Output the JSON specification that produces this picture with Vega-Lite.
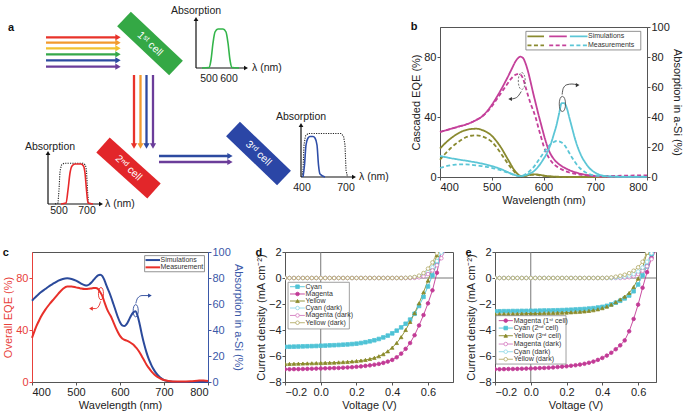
{
"$schema": "https://vega.github.io/schema/vega-lite/v6.json",
"background": "white",
"padding": {"left": 2, "top": 6, "right": 0, "bottom": 0},
"config": {
 "font": "Liberation Sans",
 "view": {"stroke": "#555", "strokeWidth": 1},
 "axis": {"grid": false, "domainColor": "#555", "tickColor": "#555", "labelColor": "#222", "titleColor": "#222", "labelFontSize": 11, "titleFontSize": 11, "titleFontWeight": "normal", "tickSize": 3, "labelPadding": 1, "titlePadding": 2},
 "title": {"fontSize": 11, "fontWeight": "bold", "anchor": "start", "frame": "bounds", "offset": 0, "color": "#111"}
},
"datasets": {
 "beams": [
  {"xs":49,"ys":32.3,"xe":121,"ye":32.3,"c":"R","d":"r"},
  {"xs":49,"ys":37.7,"xe":121,"ye":37.7,"c":"O","d":"r"},
  {"xs":49,"ys":43.3,"xe":121,"ye":43.3,"c":"Yw","d":"r"},
  {"xs":49,"ys":49.3,"xe":121,"ye":49.3,"c":"G","d":"r"},
  {"xs":49,"ys":55.3,"xe":121,"ye":55.3,"c":"B","d":"r"},
  {"xs":49,"ys":61.7,"xe":121,"ye":61.7,"c":"P","d":"r"},
  {"xs":137,"ys":70,"xe":137,"ye":141,"c":"R","d":"d"},
  {"xs":143.5,"ys":70,"xe":143.5,"ye":141,"c":"O","d":"d"},
  {"xs":149.5,"ys":70,"xe":149.5,"ye":141,"c":"B","d":"d"},
  {"xs":156,"ys":70,"xe":156,"ye":141,"c":"P","d":"d"},
  {"xs":162,"ys":151,"xe":233,"ye":151,"c":"B","d":"r"},
  {"xs":162,"ys":157,"xe":233,"ye":157,"c":"P","d":"r"},
  {"xs":199,"ys":63,"xe":199,"ye":14,"c":"K","d":"u"},
  {"xs":199,"ys":63,"xe":249,"ye":63,"c":"K","d":"r"},
  {"xs":51,"ys":199,"xe":51,"ye":148,"c":"K","d":"u"},
  {"xs":51,"ys":199,"xe":104,"ye":199,"c":"K","d":"r"},
  {"xs":304,"ys":172,"xe":304,"ye":120,"c":"K","d":"u"},
  {"xs":304,"ys":172,"xe":357,"ye":172,"c":"K","d":"r"}
 ],
 "cells": [
  {"xs":127,"ys":14,"xe":179,"ye":63,"c":"cg"},
  {"xs":106,"ys":140,"xe":157,"ye":186,"c":"cr"},
  {"xs":236,"ys":124,"xe":287,"ye":173,"c":"cb"}
 ],
 "cellText": [
  {"x":153,"y":39,"t":"1ˢᵗ cell"},
  {"x":131.5,"y":163,"t":"2ⁿᵈ cell"},
  {"x":261.5,"y":148.5,"t":"3ʳᵈ cell"}
 ],
 "inset": [
  {"k":"ig","x":205,"y":63},{"k":"ig","x":212,"y":62.5},{"k":"ig","x":214,"y":55},{"k":"ig","x":216,"y":38},{"k":"ig","x":218,"y":27},{"k":"ig","x":221,"y":24},{"k":"ig","x":226,"y":24},{"k":"ig","x":229,"y":27},{"k":"ig","x":231,"y":38},{"k":"ig","x":233,"y":55},{"k":"ig","x":235,"y":62.5},{"k":"ig","x":242,"y":63},
  {"k":"ir","x":64,"y":199},{"k":"ir","x":69,"y":198},{"k":"ir","x":71,"y":185},{"k":"ir","x":73,"y":168},{"k":"ir","x":75,"y":161},{"k":"ir","x":78,"y":159},{"k":"ir","x":84,"y":159},{"k":"ir","x":86.5,"y":161},{"k":"ir","x":88,"y":168},{"k":"ir","x":89.5,"y":185},{"k":"ir","x":91,"y":198},{"k":"ir","x":96,"y":199},
  {"k":"ib","x":306,"y":172},{"k":"ib","x":307.5,"y":160},{"k":"ib","x":309,"y":140},{"k":"ib","x":311,"y":133},{"k":"ib","x":313,"y":131.5},{"k":"ib","x":316,"y":131.5},{"k":"ib","x":318,"y":133},{"k":"ib","x":320,"y":140},{"k":"ib","x":321.5,"y":160},{"k":"ib","x":323,"y":169},{"k":"ib","x":328,"y":172}
 ],
 "insetDot": [
  {"k":"d2","x":58,"y":199},{"k":"d2","x":61,"y":198},{"k":"d2","x":62,"y":185},{"k":"d2","x":63,"y":166},{"k":"d2","x":64.5,"y":160},{"k":"d2","x":67,"y":158.3},{"k":"d2","x":86,"y":158.3},{"k":"d2","x":88.5,"y":160},{"k":"d2","x":89.5,"y":166},{"k":"d2","x":90.5,"y":185},{"k":"d2","x":91.5,"y":198},{"k":"d2","x":95,"y":199},
  {"k":"d3","x":305,"y":172},{"k":"d3","x":306,"y":165},{"k":"d3","x":307,"y":140},{"k":"d3","x":308.5,"y":131},{"k":"d3","x":311,"y":128.5},{"k":"d3","x":344,"y":128.5},{"k":"d3","x":346.5,"y":131},{"k":"d3","x":348,"y":140},{"k":"d3","x":349,"y":165},{"k":"d3","x":350.5,"y":172}
 ],
 "aTextC": [
  {"x":199,"y":6,"t":"Absorption"},{"x":53,"y":142,"t":"Absorption"},{"x":304,"y":112,"t":"Absorption"},
  {"x":212,"y":74,"t":"500"},{"x":232,"y":74,"t":"600"},{"x":62,"y":206,"t":"500"},{"x":90,"y":206,"t":"700"},{"x":305,"y":183,"t":"400"},{"x":349,"y":183,"t":"700"}
 ],
 "aTextL": [
  {"x":255,"y":63,"t":"λ (nm)"},{"x":108,"y":199,"t":"λ (nm)"},{"x":362,"y":172,"t":"λ (nm)"}
 ],
 "bq": [
  {"w":400,"os":19,"om":11.5,"ms":30,"mm":30,"cs":14,"cm":6},
  {"w":410,"os":22.5,"om":15.5,"ms":31,"mm":31,"cs":13.3,"cm":7},
  {"w":420,"os":25.5,"om":19,"ms":32,"mm":32,"cs":12.6,"cm":7.8},
  {"w":430,"os":28,"om":22,"ms":33,"mm":33,"cs":12,"cm":8.2},
  {"w":440,"os":30,"om":24.5,"ms":34,"mm":34,"cs":11.4,"cm":8.4},
  {"w":450,"os":31.3,"om":26.5,"ms":35,"mm":35,"cs":10.9,"cm":8.4},
  {"w":460,"os":32,"om":27.5,"ms":36.3,"mm":36.3,"cs":10.3,"cm":8.2},
  {"w":470,"os":32.2,"om":27.8,"ms":38,"mm":38,"cs":9.7,"cm":7.8},
  {"w":480,"os":31.5,"om":27.3,"ms":40,"mm":40,"cs":9,"cm":7.3},
  {"w":490,"os":30,"om":25.8,"ms":43.5,"mm":43,"cs":8.2,"cm":6.8},
  {"w":500,"os":27.5,"om":23.5,"ms":48,"mm":47,"cs":7.3,"cm":6.1},
  {"w":510,"os":23.5,"om":19.5,"ms":53.5,"mm":52,"cs":6.2,"cm":5.2},
  {"w":520,"os":18.5,"om":14.5,"ms":59.5,"mm":57,"cs":5,"cm":4.2},
  {"w":525,"os":15.5,"om":12,"ms":62.7,"mm":59.5,"cs":4.2,"cm":3.6},
  {"w":530,"os":12.5,"om":9.5,"ms":66,"mm":62,"cs":3.4,"cm":3},
  {"w":535,"os":9.5,"om":7,"ms":69.5,"mm":64.5,"cs":2.6,"cm":2.4},
  {"w":540,"os":6.5,"om":5,"ms":73,"mm":66.5,"cs":1.9,"cm":1.8},
  {"w":545,"os":4,"om":3,"ms":76.5,"mm":68,"cs":1.3,"cm":1.3},
  {"w":550,"os":2,"om":1.5,"ms":79,"mm":68.6,"cs":0.8,"cm":0.8},
  {"w":555,"os":0.8,"om":0.5,"ms":80.2,"mm":68.4,"cs":0.6,"cm":0.6},
  {"w":560,"os":0.5,"om":0.4,"ms":79.5,"mm":66,"cs":0.7,"cm":1},
  {"w":565,"os":0.8,"om":0.7,"ms":76,"mm":60.5,"cs":1.2,"cm":1.8},
  {"w":570,"os":1.2,"om":1.1,"ms":70.5,"mm":54.5,"cs":1.8,"cm":3},
  {"w":575,"os":1.6,"om":1.4,"ms":63.5,"mm":49,"cs":2.6,"cm":4.5},
  {"w":580,"os":1.8,"om":1.5,"ms":56,"mm":44.5,"cs":3.5,"cm":6.2},
  {"w":585,"os":1.8,"om":1.5,"ms":49,"mm":39.5,"cs":5,"cm":8.5},
  {"w":590,"os":1.6,"om":1.3,"ms":42,"mm":33,"cs":7,"cm":11},
  {"w":595,"os":1.3,"om":1,"ms":35.5,"mm":27,"cs":9.3,"cm":13.5},
  {"w":600,"os":1,"om":0.8,"ms":29,"mm":21,"cs":12,"cm":16},
  {"w":605,"os":0.7,"om":0.6,"ms":23,"mm":16.5,"cs":14.8,"cm":18.5},
  {"w":610,"os":0.5,"om":0.4,"ms":18,"mm":13,"cs":18.5,"cm":20.5},
  {"w":615,"os":0.35,"om":0.3,"ms":14.5,"mm":10.5,"cs":23,"cm":22.2},
  {"w":620,"os":0.25,"om":0.2,"ms":12,"mm":8.5,"cs":28.5,"cm":23.3},
  {"w":625,"os":0.2,"om":0.15,"ms":10,"mm":7.2,"cs":34.5,"cm":24},
  {"w":630,"os":0.15,"om":0.1,"ms":8.5,"mm":6,"cs":42,"cm":23.8},
  {"w":635,"os":0.1,"om":0.1,"ms":7.3,"mm":5.1,"cs":49.2,"cm":23},
  {"w":640,"os":0.1,"om":0.1,"ms":6.3,"mm":4.3,"cs":49.3,"cm":21.5},
  {"w":645,"os":0.05,"om":0.05,"ms":5.4,"mm":3.6,"cs":46,"cm":19},
  {"w":650,"os":0,"om":0,"ms":4.6,"mm":3,"cs":39.5,"cm":16},
  {"w":655,"os":0,"om":0,"ms":3.9,"mm":2.6,"cs":33,"cm":13},
  {"w":660,"os":0,"om":0,"ms":3.3,"mm":2.2,"cs":26.5,"cm":10.3},
  {"w":665,"os":0,"om":0,"ms":2.8,"mm":1.9,"cs":21,"cm":8},
  {"w":670,"os":0,"om":0,"ms":2.3,"mm":1.6,"cs":16.5,"cm":6},
  {"w":675,"os":0,"om":0,"ms":1.9,"mm":1.4,"cs":12.8,"cm":4.5},
  {"w":680,"os":0,"om":0,"ms":1.5,"mm":1.2,"cs":10,"cm":3.3},
  {"w":685,"os":0,"om":0,"ms":1.2,"mm":1.05,"cs":7.5,"cm":2.5},
  {"w":690,"os":0,"om":0,"ms":0.9,"mm":0.95,"cs":5.5,"cm":1.8},
  {"w":695,"os":0,"om":0,"ms":0.7,"mm":0.85,"cs":4,"cm":1.3},
  {"w":700,"os":0,"om":0,"ms":0.5,"mm":0.8,"cs":2.8,"cm":1},
  {"w":710,"os":0,"om":0,"ms":0.3,"mm":0.8,"cs":1.3,"cm":0.6},
  {"w":720,"os":0,"om":0,"ms":0.2,"mm":0.8,"cs":0.6,"cm":0.4},
  {"w":740,"os":0,"om":0,"ms":0.1,"mm":0.8,"cs":0.2,"cm":0.3},
  {"w":760,"os":0,"om":0,"ms":0.1,"mm":0.9,"cs":0.1,"cm":0.3},
  {"w":780,"os":0,"om":0,"ms":0.1,"mm":1,"cs":0.1,"cm":0.3},
  {"w":800,"os":0,"om":0,"ms":0.1,"mm":1,"cs":0.1,"cm":0.3}
 ],
 "bleg": [
  {"k":"os","xa":569,"xb":601,"y":93.8},{"k":"ms","xa":611,"xb":645,"y":93.8},{"k":"cs","xa":651,"xb":685,"y":93.8},
  {"k":"om","xa":569,"xb":601,"y":87.8},{"k":"mm","xa":611,"xb":645,"y":87.8},{"k":"cm","xa":651,"xb":685,"y":87.8}
 ],
 "blegText": [{"t":"Simulations","y":93.8},{"t":"Measurements","y":87.8}],
 "bell": [{"w":558,"v":64,"e":"d"},{"w":636.5,"v":48.7,"e":"s"}],
 "barr": [
  {"g":"a1","w":538,"v":52},{"g":"a1","w":548,"v":53},{"g":"a1","w":557,"v":57},
  {"g":"a2","w":636,"v":55},{"g":"a2","w":638,"v":59},{"g":"a2","w":645,"v":61.5},{"g":"a2","w":655,"v":62},{"g":"a2","w":664,"v":61.5}
 ],
 "bhead": [{"w":535.5,"v":52,"d":"l"},{"w":666,"v":61.3,"d":"r"}],
 "cq": [
  {"w":400,"bs":62.5,"rm":34},{"w":405,"bs":64.3,"rm":38.5},{"w":410,"bs":66,"rm":43},{"w":415,"bs":67.5,"rm":46.5},{"w":420,"bs":69,"rm":50},
  {"w":430,"bs":71.5,"rm":55.5},{"w":440,"bs":74,"rm":60},{"w":450,"bs":76,"rm":64},{"w":460,"bs":78,"rm":68},{"w":470,"bs":79.3,"rm":71.5},
  {"w":480,"bs":79.8,"rm":73.5},{"w":490,"bs":79.3,"rm":73.5},{"w":500,"bs":78,"rm":72.8},{"w":510,"bs":76,"rm":72},{"w":520,"bs":74.5,"rm":71.5},
  {"w":525,"bs":74.3,"rm":71.6},{"w":530,"bs":75,"rm":71.8},{"w":535,"bs":76.5,"rm":72},{"w":540,"bs":78.5,"rm":72.3},{"w":545,"bs":80.5,"rm":72.3},
  {"w":550,"bs":82,"rm":71.5},{"w":555,"bs":82.5,"rm":69},{"w":560,"bs":81.5,"rm":66},{"w":565,"bs":78,"rm":61},{"w":570,"bs":73.5,"rm":56.5},
  {"w":575,"bs":69.5,"rm":53},{"w":580,"bs":65,"rm":50},{"w":585,"bs":60,"rm":46},{"w":590,"bs":55,"rm":42},{"w":595,"bs":50,"rm":38.5},
  {"w":600,"bs":46,"rm":35.5},{"w":605,"bs":43.5,"rm":33.5},{"w":610,"bs":43,"rm":32.5},{"w":615,"bs":44.5,"rm":31.8},{"w":620,"bs":47.5,"rm":31},
  {"w":625,"bs":51,"rm":30},{"w":630,"bs":53.5,"rm":28.8},{"w":635,"bs":54.5,"rm":27},{"w":640,"bs":51,"rm":25},{"w":645,"bs":44,"rm":22.5},
  {"w":650,"bs":36,"rm":19.5},{"w":655,"bs":29,"rm":16.5},{"w":660,"bs":23,"rm":13.5},{"w":665,"bs":18,"rm":11},{"w":670,"bs":14,"rm":8.7},
  {"w":675,"bs":10.5,"rm":6.8},{"w":680,"bs":7.8,"rm":5.2},{"w":690,"bs":3.8,"rm":3},{"w":700,"bs":1.5,"rm":1.5},{"w":710,"bs":0.6,"rm":0.7},
  {"w":720,"bs":0.2,"rm":0.4},{"w":740,"bs":0,"rm":0.3},{"w":760,"bs":0,"rm":0.5},{"w":780,"bs":0,"rm":1.1},{"w":790,"bs":0,"rm":1.2},{"w":800,"bs":0,"rm":0.8}
 ],
 "cleg": [{"k":"bs","t":"Simulations","y":93.8},{"k":"rm","t":"Measurement","y":88.2}],
 "cell": [{"k":"rm","w":556.7,"v":68},{"k":"bs","w":635.7,"v":54.8}],
 "carr": [
  {"k":"rm","w":537,"v":56.5},{"k":"rm","w":545,"v":56.5},{"k":"rm","w":552,"v":58.5},{"k":"rm","w":556,"v":62},
  {"k":"bs","w":636,"v":60.5},{"k":"bs","w":640,"v":64.5},{"k":"bs","w":650,"v":66.5},{"k":"bs","w":665,"v":66.5}
 ],
 "chead": [{"k":"rm","w":534,"v":56.5,"d":"l"},{"k":"bs","w":668,"v":66.5,"d":"r"}],
 "dj": [
  {"v":-0.2,"C":-5.30,"M":-7.02,"Y":-6.62,"Cd":0,"Md":0,"Yd":0},
  {"v":-0.175,"C":-5.29,"M":-7.02,"Y":-6.61,"Cd":0,"Md":0,"Yd":0},
  {"v":-0.15,"C":-5.28,"M":-7.01,"Y":-6.60,"Cd":0,"Md":0,"Yd":0},
  {"v":-0.125,"C":-5.27,"M":-7.01,"Y":-6.59,"Cd":0,"Md":0,"Yd":0},
  {"v":-0.1,"C":-5.26,"M":-7.00,"Y":-6.58,"Cd":0,"Md":0,"Yd":0},
  {"v":-0.075,"C":-5.25,"M":-6.99,"Y":-6.57,"Cd":0,"Md":0,"Yd":0},
  {"v":-0.05,"C":-5.24,"M":-6.98,"Y":-6.56,"Cd":0,"Md":0,"Yd":0},
  {"v":-0.025,"C":-5.23,"M":-6.97,"Y":-6.55,"Cd":0,"Md":0,"Yd":0},
  {"v":0,"C":-5.21,"M":-6.96,"Y":-6.54,"Cd":0,"Md":0,"Yd":0},
  {"v":0.025,"C":-5.20,"M":-6.95,"Y":-6.53,"Cd":0,"Md":0,"Yd":0},
  {"v":0.05,"C":-5.18,"M":-6.94,"Y":-6.52,"Cd":0,"Md":0,"Yd":0},
  {"v":0.075,"C":-5.17,"M":-6.93,"Y":-6.51,"Cd":0,"Md":0,"Yd":0},
  {"v":0.1,"C":-5.15,"M":-6.92,"Y":-6.49,"Cd":0,"Md":0,"Yd":0},
  {"v":0.125,"C":-5.13,"M":-6.90,"Y":-6.47,"Cd":0,"Md":0,"Yd":0},
  {"v":0.15,"C":-5.11,"M":-6.88,"Y":-6.45,"Cd":0,"Md":0,"Yd":0},
  {"v":0.175,"C":-5.08,"M":-6.86,"Y":-6.42,"Cd":0,"Md":0,"Yd":0},
  {"v":0.2,"C":-5.05,"M":-6.83,"Y":-6.39,"Cd":0,"Md":0,"Yd":0},
  {"v":0.225,"C":-5.00,"M":-6.80,"Y":-6.35,"Cd":0,"Md":0,"Yd":0},
  {"v":0.25,"C":-4.94,"M":-6.76,"Y":-6.30,"Cd":0,"Md":0,"Yd":0},
  {"v":0.275,"C":-4.87,"M":-6.72,"Y":-6.23,"Cd":0,"Md":0,"Yd":0},
  {"v":0.3,"C":-4.79,"M":-6.67,"Y":-6.14,"Cd":0,"Md":0,"Yd":0},
  {"v":0.325,"C":-4.69,"M":-6.61,"Y":-6.02,"Cd":0,"Md":0,"Yd":0},
  {"v":0.35,"C":-4.57,"M":-6.53,"Y":-5.86,"Cd":0,"Md":0,"Yd":0},
  {"v":0.375,"C":-4.43,"M":-6.43,"Y":-5.64,"Cd":0,"Md":0,"Yd":0},
  {"v":0.4,"C":-4.26,"M":-6.30,"Y":-5.36,"Cd":0,"Md":0,"Yd":0},
  {"v":0.425,"C":-4.05,"M":-6.10,"Y":-5.00,"Cd":0,"Md":0,"Yd":0},
  {"v":0.45,"C":-3.80,"M":-5.82,"Y":-4.55,"Cd":0,"Md":0,"Yd":0},
  {"v":0.475,"C":-3.52,"M":-5.45,"Y":-4.00,"Cd":0,"Md":0,"Yd":0.01},
  {"v":0.5,"C":-3.20,"M":-5.00,"Y":-3.38,"Cd":0.01,"Md":0,"Yd":0.03},
  {"v":0.525,"C":-2.75,"M":-4.40,"Y":-2.70,"Cd":0.04,"Md":0.01,"Yd":0.08},
  {"v":0.55,"C":-2.15,"M":-3.65,"Y":-1.95,"Cd":0.11,"Md":0.05,"Yd":0.18},
  {"v":0.575,"C":-1.45,"M":-2.85,"Y":-1.10,"Cd":0.25,"Md":0.13,"Yd":0.38},
  {"v":0.6,"C":-0.65,"M":-1.95,"Y":-0.20,"Cd":0.48,"Md":0.30,"Yd":0.72},
  {"v":0.625,"C":0.20,"M":-0.95,"Y":0.75,"Cd":0.82,"Md":0.58,"Yd":1.20},
  {"v":0.65,"C":1.10,"M":0.40,"Y":1.75,"Cd":1.30,"Md":0.98,"Yd":1.90},
  {"v":0.675,"C":2.05,"M":2.10,"Y":2.80,"Cd":1.95,"Md":1.52,"Yd":2.80},
  {"v":0.7,"C":3.00,"M":3.80,"Y":3.90,"Cd":2.80,"Md":2.20,"Yd":3.90}
 ],
 "ej": [
  {"v":-0.2,"M":-7.02,"C":-2.56,"Y":-2.78,"Md":0,"Cd":0,"Yd":0},
  {"v":-0.175,"M":-7.02,"C":-2.56,"Y":-2.78,"Md":0,"Cd":0,"Yd":0},
  {"v":-0.15,"M":-7.01,"C":-2.55,"Y":-2.77,"Md":0,"Cd":0,"Yd":0},
  {"v":-0.125,"M":-7.00,"C":-2.55,"Y":-2.77,"Md":0,"Cd":0,"Yd":0},
  {"v":-0.1,"M":-7.00,"C":-2.54,"Y":-2.76,"Md":0,"Cd":0,"Yd":0},
  {"v":-0.075,"M":-6.99,"C":-2.54,"Y":-2.76,"Md":0,"Cd":0,"Yd":0},
  {"v":-0.05,"M":-6.98,"C":-2.53,"Y":-2.75,"Md":0,"Cd":0,"Yd":0},
  {"v":-0.025,"M":-6.97,"C":-2.53,"Y":-2.74,"Md":0,"Cd":0,"Yd":0},
  {"v":0,"M":-6.96,"C":-2.52,"Y":-2.73,"Md":0,"Cd":0,"Yd":0},
  {"v":0.025,"M":-6.95,"C":-2.52,"Y":-2.73,"Md":0,"Cd":0,"Yd":0},
  {"v":0.05,"M":-6.93,"C":-2.51,"Y":-2.72,"Md":0,"Cd":0,"Yd":0},
  {"v":0.075,"M":-6.92,"C":-2.50,"Y":-2.71,"Md":0,"Cd":0,"Yd":0},
  {"v":0.1,"M":-6.90,"C":-2.50,"Y":-2.70,"Md":0,"Cd":0,"Yd":0},
  {"v":0.125,"M":-6.88,"C":-2.49,"Y":-2.69,"Md":0,"Cd":0,"Yd":0},
  {"v":0.15,"M":-6.85,"C":-2.48,"Y":-2.68,"Md":0,"Cd":0,"Yd":0},
  {"v":0.175,"M":-6.82,"C":-2.47,"Y":-2.67,"Md":0,"Cd":0,"Yd":0},
  {"v":0.2,"M":-6.79,"C":-2.45,"Y":-2.66,"Md":0,"Cd":0,"Yd":0},
  {"v":0.225,"M":-6.75,"C":-2.44,"Y":-2.64,"Md":0,"Cd":0,"Yd":0},
  {"v":0.25,"M":-6.71,"C":-2.42,"Y":-2.62,"Md":0,"Cd":0,"Yd":0},
  {"v":0.275,"M":-6.66,"C":-2.40,"Y":-2.60,"Md":0,"Cd":0,"Yd":0},
  {"v":0.3,"M":-6.60,"C":-2.38,"Y":-2.57,"Md":0,"Cd":0,"Yd":0},
  {"v":0.325,"M":-6.52,"C":-2.35,"Y":-2.53,"Md":0,"Cd":0,"Yd":0},
  {"v":0.35,"M":-6.43,"C":-2.32,"Y":-2.48,"Md":0,"Cd":0,"Yd":0},
  {"v":0.375,"M":-6.30,"C":-2.27,"Y":-2.41,"Md":0,"Cd":0,"Yd":0},
  {"v":0.4,"M":-6.15,"C":-2.22,"Y":-2.32,"Md":0,"Cd":0,"Yd":0},
  {"v":0.425,"M":-5.97,"C":-2.14,"Y":-2.20,"Md":0,"Cd":0,"Yd":0.01},
  {"v":0.45,"M":-5.75,"C":-2.03,"Y":-2.05,"Md":0,"Cd":0,"Yd":0.04},
  {"v":0.475,"M":-5.48,"C":-1.90,"Y":-1.86,"Md":0,"Cd":0.02,"Yd":0.10},
  {"v":0.5,"M":-5.18,"C":-1.75,"Y":-1.65,"Md":0,"Cd":0.05,"Yd":0.17},
  {"v":0.525,"M":-4.80,"C":-1.57,"Y":-1.43,"Md":0.02,"Cd":0.10,"Yd":0.25},
  {"v":0.55,"M":-4.10,"C":-1.35,"Y":-1.15,"Md":0.06,"Cd":0.18,"Yd":0.37},
  {"v":0.575,"M":-3.15,"C":-1.02,"Y":-0.70,"Md":0.14,"Cd":0.30,"Yd":0.56},
  {"v":0.6,"M":-2.05,"C":-0.50,"Y":-0.05,"Md":0.30,"Cd":0.50,"Yd":0.82},
  {"v":0.625,"M":-0.75,"C":0.20,"Y":0.80,"Md":0.55,"Cd":0.80,"Yd":1.25},
  {"v":0.65,"M":0.45,"C":0.90,"Y":1.95,"Md":0.90,"Cd":1.25,"Yd":1.95},
  {"v":0.675,"M":1.55,"C":1.85,"Y":3.00,"Md":1.45,"Cd":1.90,"Yd":2.80},
  {"v":0.7,"M":2.60,"C":2.90,"Y":4.00,"Md":2.10,"Cd":2.70,"Yd":3.80}
 ],
 "dleg": [
  {"k":"C","t":"Cyan","j":-0.67},{"k":"M","t":"Magenta","j":-1.23},{"k":"Y","t":"Yellow","j":-1.77},
  {"k":"Cd","t":"Cyan (dark)","j":-2.31},{"k":"Md","t":"Magenta (dark)","j":-2.88},{"k":"Yd","t":"Yellow (dark)","j":-3.44}
 ],
 "eleg": [
  {"k":"M","t":"Magenta (1ˢᵗ cell)","j":-3.28},{"k":"C","t":"Cyan (2ⁿᵈ cell)","j":-3.85},{"k":"Y","t":"Yellow (3ʳᵈ cell)","j":-4.44},
  {"k":"Md","t":"Magenta (dark)","j":-5.08},{"k":"Cd","t":"Cyan (dark)","j":-5.67},{"k":"Yd","t":"Yellow (dark)","j":-6.25}
 ]
},
"columns": 1,
"align": "none",
"spacing": 28,
"resolve": {"scale": {"color": "independent", "shape": "independent", "strokeDash": "independent", "stroke": "independent", "fill": "independent"}},
"concat": [
 {"spacing": 21,
  "resolve": {"scale": {"color": "independent", "shape": "independent", "strokeDash": "independent", "stroke": "independent", "fill": "independent"}},
  "hconcat": [
  {"width": 355, "height": 188, "view": {"stroke": null},
   "encoding": {
     "x": {"type": "quantitative", "scale": {"domain": [35, 390], "nice": false, "zero": false}, "axis": null},
     "y": {"type": "quantitative", "scale": {"domain": [22, 210], "nice": false, "zero": false, "reverse": true}, "axis": null}
   },
   "layer": [
    {"data": {"name": "beams"}, "transform": [{"filter": "datum.c != 'K'"}], "mark": {"type": "rule", "strokeWidth": 2.3},
     "encoding": {"x": {"field": "xs", "type": "quantitative"}, "y": {"field": "ys", "type": "quantitative"}, "x2": {"field": "xe"}, "y2": {"field": "ye"},
      "color": {"field": "c", "type": "nominal", "legend": null, "scale": {"domain": ["R","O","Yw","G","B","P","K","cg","cr","cb","ig","ir","ib"], "range": ["#e8332a","#f29a2e","#f2c230","#35a84a","#2d4aa0","#6b3d9a","#111111","#34a845","#e2262a","#2b46a6","#33b54a","#e8282a","#2f4ea8"]}}}},
    {"data": {"name": "beams"}, "transform": [{"filter": "datum.c != 'K'"}], "mark": {"type": "point", "filled": true, "size": 38, "opacity": 1},
     "encoding": {"x": {"field": "xe", "type": "quantitative"}, "y": {"field": "ye", "type": "quantitative"},
      "shape": {"field": "d", "type": "nominal", "legend": null, "scale": {"domain": ["r","d","u"], "range": ["triangle-right","triangle-down","triangle-up"]}},
      "color": {"field": "c", "type": "nominal", "legend": null}}},
    {"data": {"name": "beams"}, "transform": [{"filter": "datum.c == 'K'"}], "mark": {"type": "rule", "strokeWidth": 1.2, "color": "#111"},
     "encoding": {"x": {"field": "xs", "type": "quantitative"}, "y": {"field": "ys", "type": "quantitative"}, "x2": {"field": "xe"}, "y2": {"field": "ye"}}},
    {"data": {"name": "beams"}, "transform": [{"filter": "datum.c == 'K'"}], "mark": {"type": "point", "filled": true, "size": 22, "color": "#111", "opacity": 1},
     "encoding": {"x": {"field": "xe", "type": "quantitative"}, "y": {"field": "ye", "type": "quantitative"},
      "shape": {"field": "d", "type": "nominal", "legend": null}}},
    {"data": {"name": "cells"}, "mark": {"type": "rule", "strokeWidth": 20, "strokeCap": "butt"},
     "encoding": {"x": {"field": "xs", "type": "quantitative"}, "y": {"field": "ys", "type": "quantitative"}, "x2": {"field": "xe"}, "y2": {"field": "ye"},
      "color": {"field": "c", "type": "nominal", "legend": null}}},
    {"data": {"name": "cellText"}, "mark": {"type": "text", "angle": 43, "color": "white", "fontSize": 10.5, "align": "center", "baseline": "middle"},
     "encoding": {"x": {"field": "x", "type": "quantitative"}, "y": {"field": "y", "type": "quantitative"}, "text": {"field": "t"}}},
    {"data": {"name": "insetDot"}, "mark": {"type": "line", "strokeWidth": 1.1, "strokeDash": [1.2, 1.2], "color": "#222"},
     "encoding": {"x": {"field": "x", "type": "quantitative"}, "y": {"field": "y", "type": "quantitative"}, "detail": {"field": "k"}}},
    {"data": {"name": "inset"}, "mark": {"type": "line", "strokeWidth": 1.6, "interpolate": "monotone"},
     "encoding": {"x": {"field": "x", "type": "quantitative"}, "y": {"field": "y", "type": "quantitative"}, "color": {"field": "k", "type": "nominal", "legend": null}}},
    {"data": {"name": "aTextC"}, "mark": {"type": "text", "fontSize": 10.5, "align": "center", "baseline": "middle", "color": "#222"},
     "encoding": {"x": {"field": "x", "type": "quantitative"}, "y": {"field": "y", "type": "quantitative"}, "text": {"field": "t"}}},
    {"data": {"name": "aTextL"}, "mark": {"type": "text", "fontSize": 10.5, "align": "left", "baseline": "middle", "color": "#222"},
     "encoding": {"x": {"field": "x", "type": "quantitative"}, "y": {"field": "y", "type": "quantitative"}, "text": {"field": "t"}}},
    {"data": {"values": [{"x": 14, "y": 23, "t": "a"}]}, "mark": {"type": "text", "fontSize": 11, "fontWeight": "bold", "align": "center", "baseline": "middle", "color": "#111"},
     "encoding": {"x": {"field": "x", "type": "quantitative"}, "y": {"field": "y", "type": "quantitative"}, "text": {"field": "t"}}}
   ]
  },
  {"width": 207, "height": 150,
   "title": {"text": "b", "offset": 6, "dy": 17},
   "layer": [
    {"layer": [
     {"data": {"name": "bq"}, "transform": [{"fold": ["os","om","ms","mm","cs","cm"], "as": ["k","v"]}],
      "mark": {"type": "line", "strokeWidth": 1.8, "interpolate": "monotone"},
      "encoding": {
       "x": {"field": "w", "type": "quantitative", "scale": {"domain": [400, 800], "nice": false}, "axis": {"title": "Wavelength (nm)", "values": [400,500,600,700,800]}},
       "y": {"field": "v", "type": "quantitative", "scale": {"domain": [0, 100], "nice": false}, "axis": {"title": "Cascaded EQE (%)", "values": [0,20,40,60,80,100]}},
       "color": {"field": "k", "type": "nominal", "legend": null, "scale": {"domain": ["os","om","ms","mm","cs","cm"], "range": ["#8a8a30","#8a8a30","#c4409a","#c4409a","#5cc6d6","#5cc6d6"]}},
       "strokeDash": {"field": "k", "type": "nominal", "legend": null, "scale": {"domain": ["os","om","ms","mm","cs","cm"], "range": [[1,0],[4,2.5],[1,0],[4,2.5],[1,0],[4,2.5]]}}
      }},
     {"data": {"values": [{"a": 1}]}, "mark": {"type": "rect", "fill": "white", "stroke": "#777", "strokeWidth": 0.8},
      "encoding": {"x": {"datum": 566, "type": "quantitative"}, "x2": {"datum": 788}, "y": {"datum": 97.1, "type": "quantitative"}, "y2": {"datum": 84.7}}},
     {"data": {"name": "bleg"}, "mark": {"type": "rule", "strokeWidth": 1.8},
      "encoding": {"x": {"field": "xa", "type": "quantitative"}, "x2": {"field": "xb"}, "y": {"field": "y", "type": "quantitative"},
       "color": {"field": "k", "type": "nominal", "legend": null}, "strokeDash": {"field": "k", "type": "nominal", "legend": null}}},
     {"data": {"name": "blegText"}, "mark": {"type": "text", "fontSize": 7, "align": "left", "baseline": "middle", "color": "#333"},
      "encoding": {"x": {"datum": 686, "type": "quantitative"}, "y": {"field": "y", "type": "quantitative"}, "text": {"field": "t"}}},
     {"data": {"name": "bell"}, "transform": [{"filter": "datum.e == 'd'"}], "mark": {"type": "point", "shape": "M0,-1C0.55,-1 0.55,1 0,1C-0.55,1 -0.55,-1 0,-1Z", "size": 280, "filled": false, "color": "#666", "strokeWidth": 0.9, "strokeDash": [2, 1.5], "opacity": 1},
      "encoding": {"x": {"field": "w", "type": "quantitative"}, "y": {"field": "v", "type": "quantitative"}}},
     {"data": {"name": "bell"}, "transform": [{"filter": "datum.e == 's'"}], "mark": {"type": "point", "shape": "M0,-1C0.55,-1 0.55,1 0,1C-0.55,1 -0.55,-1 0,-1Z", "size": 230, "filled": false, "color": "#555", "strokeWidth": 0.9, "opacity": 1},
      "encoding": {"x": {"field": "w", "type": "quantitative"}, "y": {"field": "v", "type": "quantitative"}}},
     {"data": {"name": "barr"}, "mark": {"type": "line", "strokeWidth": 0.9, "color": "#444", "interpolate": "monotone"},
      "encoding": {"x": {"field": "w", "type": "quantitative"}, "y": {"field": "v", "type": "quantitative"}, "detail": {"field": "g"}}},
     {"data": {"name": "bhead"}, "mark": {"type": "point", "filled": true, "size": 18, "color": "#333", "opacity": 1},
      "encoding": {"x": {"field": "w", "type": "quantitative"}, "y": {"field": "v", "type": "quantitative"},
       "shape": {"field": "d", "type": "nominal", "legend": null, "scale": {"domain": ["l","r"], "range": ["triangle-left","triangle-right"]}}}}
    ]},
    {"data": {"values": [{"a": 0}]}, "mark": {"type": "point", "opacity": 0},
     "encoding": {"y": {"datum": 0, "type": "quantitative", "scale": {"domain": [0, 100], "nice": false}, "axis": {"orient": "right", "title": "Absorption in a-Si (%)", "values": [0,20,40,60,80,100]}}}}
   ],
   "resolve": {"scale": {"y": "independent"}}
  }
 ]},
 {"spacing": 10,
  "resolve": {"scale": {"color": "independent", "shape": "independent", "strokeDash": "independent", "stroke": "independent", "fill": "independent"}},
  "hconcat": [
  {"width": 176, "height": 130,
   "title": {"text": "c", "dy": 16},
   "layer": [
    {"layer": [
     {"data": {"name": "cq"}, "transform": [{"fold": ["bs","rm"], "as": ["k","v"]}],
      "mark": {"type": "line", "strokeWidth": 2, "interpolate": "monotone"},
      "encoding": {
       "x": {"field": "w", "type": "quantitative", "scale": {"domain": [400, 800], "nice": false}, "axis": {"title": "Wavelength (nm)", "values": [400,500,600,700,800]}},
       "y": {"field": "v", "type": "quantitative", "scale": {"domain": [0, 100], "nice": false}, "axis": {"title": "Overall EQE (%)", "values": [0,20,40,60,80,100], "domainColor": "#e8403a", "tickColor": "#e8403a", "labelColor": "#e8403a", "titleColor": "#e8403a"}},
       "color": {"field": "k", "type": "nominal", "legend": null, "scale": {"domain": ["bs","rm"], "range": ["#2b4a9b","#e8302a"]}}
      }},
     {"data": {"values": [{"a": 1}]}, "mark": {"type": "rect", "fill": "white", "stroke": "#777", "strokeWidth": 0.8},
      "encoding": {"x": {"datum": 656, "type": "quantitative"}, "x2": {"datum": 792}, "y": {"datum": 97.2, "type": "quantitative"}, "y2": {"datum": 84.8}}},
     {"data": {"name": "cleg"}, "mark": {"type": "rule", "strokeWidth": 2},
      "encoding": {"x": {"datum": 658, "type": "quantitative"}, "x2": {"datum": 691}, "y": {"field": "y", "type": "quantitative"}, "color": {"field": "k", "type": "nominal", "legend": null}}},
     {"data": {"name": "cleg"}, "mark": {"type": "text", "fontSize": 7, "align": "left", "baseline": "middle", "color": "#333"},
      "encoding": {"x": {"datum": 692, "type": "quantitative"}, "y": {"field": "y", "type": "quantitative"}, "text": {"field": "t"}}},
     {"data": {"name": "cell"}, "mark": {"type": "point", "shape": "M0,-1C0.55,-1 0.55,1 0,1C-0.55,1 -0.55,-1 0,-1Z", "size": 150, "filled": false, "strokeWidth": 0.9, "opacity": 1},
      "encoding": {"x": {"field": "w", "type": "quantitative"}, "y": {"field": "v", "type": "quantitative"}, "color": {"field": "k", "type": "nominal", "legend": null}}},
     {"data": {"name": "carr"}, "mark": {"type": "line", "strokeWidth": 0.9, "interpolate": "monotone"},
      "encoding": {"x": {"field": "w", "type": "quantitative"}, "y": {"field": "v", "type": "quantitative"}, "color": {"field": "k", "type": "nominal", "legend": null}}},
     {"data": {"name": "chead"}, "mark": {"type": "point", "filled": true, "size": 18, "opacity": 1},
      "encoding": {"x": {"field": "w", "type": "quantitative"}, "y": {"field": "v", "type": "quantitative"}, "color": {"field": "k", "type": "nominal", "legend": null},
       "shape": {"field": "d", "type": "nominal", "legend": null, "scale": {"domain": ["l","r"], "range": ["triangle-left","triangle-right"]}}}}
    ]},
    {"data": {"values": [{"a": 0}]}, "mark": {"type": "point", "opacity": 0},
     "encoding": {"y": {"datum": 0, "type": "quantitative", "scale": {"domain": [0, 100], "nice": false}, "axis": {"orient": "right", "title": "Absorption in a-Si (%)", "values": [0,20,40,60,80,100], "domainColor": "#3a58a8", "tickColor": "#3a58a8", "labelColor": "#3a58a8", "titleColor": "#3a58a8"}}}}
   ],
   "resolve": {"scale": {"y": "independent"}}
  },
  {"width": 168, "height": 130,
   "title": {"text": "d", "dy": 16},
   "encoding": {
    "x": {"type": "quantitative", "scale": {"domain": [-0.2, 0.74], "nice": false, "zero": false}, "axis": {"title": "Voltage (V)", "values": [-0.2,0,0.2,0.4,0.6], "format": ".1f"}},
    "y": {"type": "quantitative", "scale": {"domain": [-8, 2], "nice": false, "zero": false}, "axis": {"title": "Current density (mA cm⁻²)", "values": [-8,-6,-4,-2,0,2]}}
   },
   "layer": [
    {"data": {"values": [{"a": 0}]}, "mark": {"type": "rule", "color": "#777", "strokeWidth": 1}, "encoding": {"x": {"datum": 0}}},
    {"data": {"values": [{"a": 0}]}, "mark": {"type": "rule", "color": "#777", "strokeWidth": 1}, "encoding": {"y": {"datum": 0}}},
    {"data": {"name": "dj"}, "transform": [{"fold": ["C","M","Y","Cd","Md","Yd"], "as": ["k","j"]}],
     "mark": {"type": "line", "strokeWidth": 0.9, "clip": true},
     "encoding": {"x": {"field": "v"}, "y": {"field": "j"},
      "stroke": {"field": "k", "type": "nominal", "legend": null, "scale": {"domain": ["C","M","Y","Cd","Md","Yd"], "range": ["#4fc3d6","#c23a95","#8a8a2a","#8fd8e6","#d47cc0","#b3aa66"]}}}},
    {"data": {"name": "dj"}, "transform": [{"fold": ["C","M","Y","Cd","Md","Yd"], "as": ["k","j"]}],
     "mark": {"type": "point", "filled": false, "size": 13, "strokeWidth": 0.8, "opacity": 1, "clip": true},
     "encoding": {"x": {"field": "v"}, "y": {"field": "j"},
      "stroke": {"field": "k", "type": "nominal", "legend": null},
      "fill": {"field": "k", "type": "nominal", "legend": null, "scale": {"domain": ["C","M","Y","Cd","Md","Yd"], "range": ["#4fc3d6","#c23a95","#8a8a2a","white","white","white"]}},
      "shape": {"field": "k", "type": "nominal", "legend": null, "scale": {"domain": ["C","M","Y","Cd","Md","Yd"], "range": ["square","circle","triangle-up","circle","circle","circle"]}}}},
    {"data": {"values": [{"a": 1}]}, "mark": {"type": "rect", "fill": "white", "stroke": "#888", "strokeWidth": 0.8},
     "encoding": {"x": {"datum": -0.183}, "x2": {"datum": 0.16}, "y": {"datum": -0.33}, "y2": {"datum": -3.92}}},
    {"data": {"name": "dleg"}, "mark": {"type": "rule", "strokeWidth": 0.9},
     "encoding": {"x": {"datum": -0.172}, "x2": {"datum": -0.089}, "y": {"field": "j"}, "stroke": {"field": "k", "type": "nominal", "legend": null}}},
    {"data": {"name": "dleg"}, "mark": {"type": "point", "filled": false, "size": 13, "strokeWidth": 0.8, "opacity": 1},
     "encoding": {"x": {"datum": -0.13}, "y": {"field": "j"}, "stroke": {"field": "k", "type": "nominal", "legend": null}, "fill": {"field": "k", "type": "nominal", "legend": null}, "shape": {"field": "k", "type": "nominal", "legend": null}}},
    {"data": {"name": "dleg"}, "mark": {"type": "text", "fontSize": 7, "align": "left", "baseline": "middle", "color": "#333"},
     "encoding": {"x": {"datum": -0.085}, "y": {"field": "j"}, "text": {"field": "t"}}}
   ]
  },
  {"width": 161, "height": 130,
   "title": {"text": "e", "dy": 16},
   "encoding": {
    "x": {"type": "quantitative", "scale": {"domain": [-0.2, 0.7], "nice": false, "zero": false}, "axis": {"title": "Voltage (V)", "values": [-0.2,0,0.2,0.4,0.6], "format": ".1f"}},
    "y": {"type": "quantitative", "scale": {"domain": [-8, 2], "nice": false, "zero": false}, "axis": {"title": "Current density (mA cm⁻²)", "values": [-8,-6,-4,-2,0,2]}}
   },
   "layer": [
    {"data": {"values": [{"a": 0}]}, "mark": {"type": "rule", "color": "#777", "strokeWidth": 1}, "encoding": {"x": {"datum": 0}}},
    {"data": {"values": [{"a": 0}]}, "mark": {"type": "rule", "color": "#777", "strokeWidth": 1}, "encoding": {"y": {"datum": 0}}},
    {"data": {"name": "ej"}, "transform": [{"fold": ["M","C","Y","Md","Cd","Yd"], "as": ["k","j"]}],
     "mark": {"type": "line", "strokeWidth": 0.9, "clip": true},
     "encoding": {"x": {"field": "v"}, "y": {"field": "j"},
      "stroke": {"field": "k", "type": "nominal", "legend": null, "scale": {"domain": ["C","M","Y","Cd","Md","Yd"], "range": ["#4fc3d6","#c23a95","#8a8a2a","#8fd8e6","#d47cc0","#b3aa66"]}}}},
    {"data": {"name": "ej"}, "transform": [{"fold": ["M","C","Y","Md","Cd","Yd"], "as": ["k","j"]}],
     "mark": {"type": "point", "filled": false, "size": 13, "strokeWidth": 0.8, "opacity": 1, "clip": true},
     "encoding": {"x": {"field": "v"}, "y": {"field": "j"},
      "stroke": {"field": "k", "type": "nominal", "legend": null},
      "fill": {"field": "k", "type": "nominal", "legend": null, "scale": {"domain": ["C","M","Y","Cd","Md","Yd"], "range": ["#4fc3d6","#c23a95","#8a8a2a","white","white","white"]}},
      "shape": {"field": "k", "type": "nominal", "legend": null, "scale": {"domain": ["C","M","Y","Cd","Md","Yd"], "range": ["square","circle","triangle-up","circle","circle","circle"]}}}},
    {"data": {"values": [{"a": 1}]}, "mark": {"type": "rect", "fill": "white", "stroke": "#888", "strokeWidth": 0.8},
     "encoding": {"x": {"datum": -0.195}, "x2": {"datum": 0.197}, "y": {"datum": -2.9}, "y2": {"datum": -6.62}}},
    {"data": {"name": "eleg"}, "mark": {"type": "rule", "strokeWidth": 0.9},
     "encoding": {"x": {"datum": -0.179}, "x2": {"datum": -0.1}, "y": {"field": "j"}, "stroke": {"field": "k", "type": "nominal", "legend": null}}},
    {"data": {"name": "eleg"}, "mark": {"type": "point", "filled": false, "size": 13, "strokeWidth": 0.8, "opacity": 1},
     "encoding": {"x": {"datum": -0.14}, "y": {"field": "j"}, "stroke": {"field": "k", "type": "nominal", "legend": null}, "fill": {"field": "k", "type": "nominal", "legend": null}, "shape": {"field": "k", "type": "nominal", "legend": null}}},
    {"data": {"name": "eleg"}, "mark": {"type": "text", "fontSize": 7, "align": "left", "baseline": "middle", "color": "#333"},
     "encoding": {"x": {"datum": -0.095}, "y": {"field": "j"}, "text": {"field": "t"}}}
   ]
  }
 ]}
]
}
